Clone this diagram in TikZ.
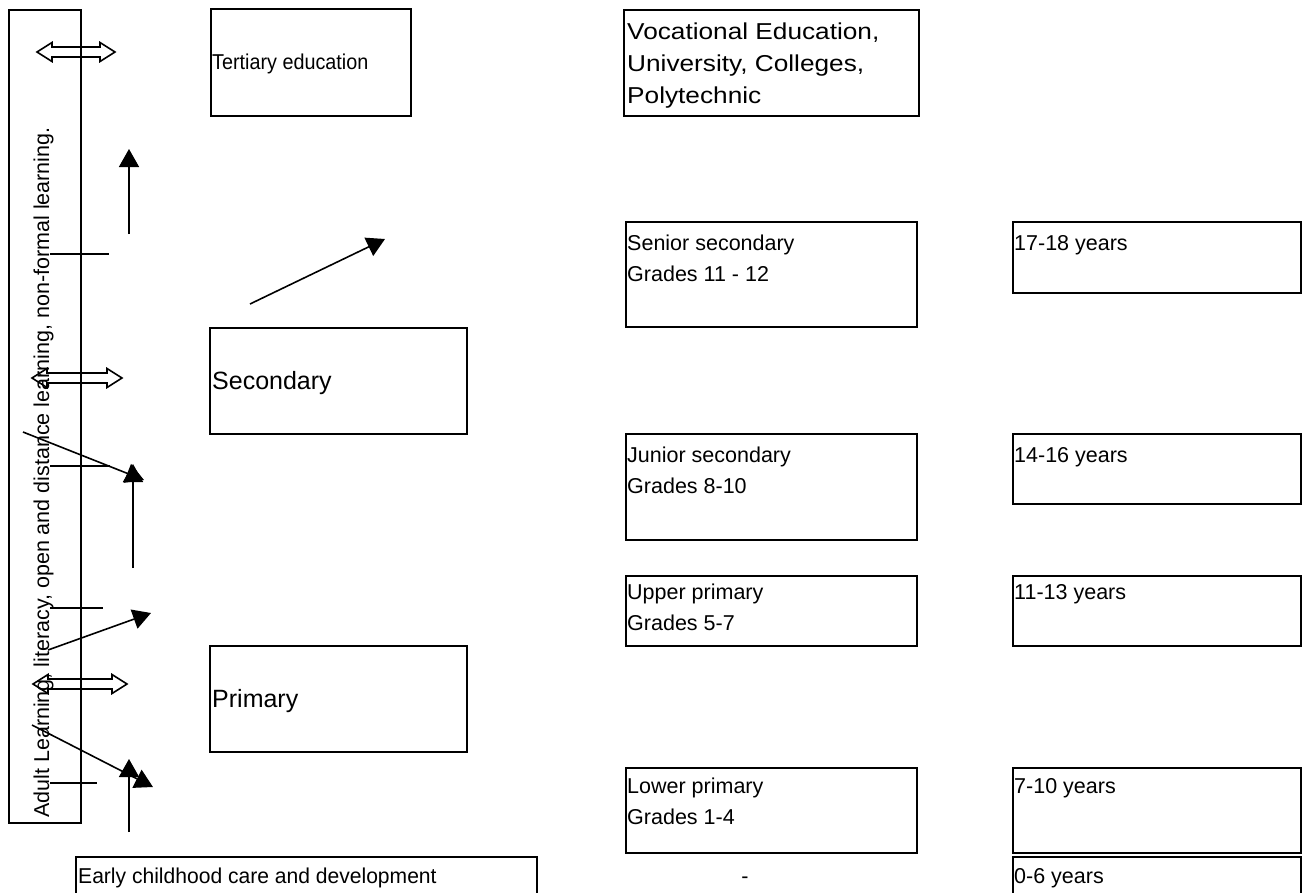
\documentclass[tikz,border=0pt]{standalone}
\usepackage{fontspec}
\usepackage{graphicx}
\setmainfont{Liberation Sans}
\usetikzlibrary{arrows.meta}
\tikzset{
  txt/.style={inner sep=0pt, anchor=base west, font=\fontsize{21.5}{31}\selectfont},
  big/.style={font=\fontsize{25}{32}\selectfont},
  bx/.style={draw, line width=2pt, inner sep=0pt, anchor=north west},
  arr/.style={line width=1.6pt, -{Triangle[length=18pt,width=20pt]}},
  thin/.style={line width=1.6pt},
  dbl/.style={line width=1.6pt, fill=none, line join=miter},
}
\newcommand\mybox[5]{\node[bx, minimum width=#4-#2, minimum height=#5-#3] (#1) at (#2,#3) {};}
\newcommand\twolines[2]{\vtop{\hbox{#1}\hbox{#2}}}
\newcommand\threelines[3]{\vtop{\hbox{#1}\hbox{#2}\hbox{#3}}}
\newcommand\dblarrow[4]{% name, x1, x2, y
  \coordinate (#1) at ({(#2+#3)/2},#4);
  \draw[dbl] (#2,#4) -- ++(15,-9.5) -- ++(0,4.5) -- ({#3-15},{#4-5}) -- ++(0,-4.5) -- (#3,#4)
    -- ({#3-15},{#4+9.5}) -- ++(0,-4.5) -- ({#2+15},{#4+5}) -- ++(0,4.5) -- cycle;}
\begin{document}
\begin{tikzpicture}[x=1pt,y=-1pt]
\useasboundingbox (0,0) rectangle (1308,892);
% left column
\mybox{adult}{8}{9}{80}{822}
\node[txt, rotate=90] (adulttxt) at (49,818)
  {Adult Learning, literacy, open and distance learning, non-formal learning.};
% middle boxes
\mybox{tert}{210}{8}{410}{115}
\mybox{sec}{209}{327}{466}{433}
\mybox{prim}{209}{645}{466}{751}
\node[txt] (terttxt) at (212,69) {\scalebox{0.92}[1]{Tertiary education}};
\node[txt, big] (sectxt) at (212,389) {Secondary};
\node[txt, big] (primtxt) at (212,707) {Primary};
% right column A
\mybox{voc}{623}{9}{918}{115}
\mybox{sen}{625}{221}{916}{326}
\mybox{jun}{625}{433}{916}{539}
\mybox{upp}{625}{575}{916}{645}
\mybox{low}{625}{767}{916}{852}
\node[txt, font=\fontsize{23}{32}\selectfont] (voctxt) at (627,39)
  {\scalebox{1.14}[1]{\threelines{Vocational Education,}{University, Colleges,}{Polytechnic}}};
\node[txt] (sentxt) at (627,250) {\twolines{Senior secondary}{Grades 11 - 12}};
\node[txt] (juntxt) at (627,462) {\twolines{Junior secondary}{Grades 8-10}};
\node[txt] (upptxt) at (627,599) {\twolines{Upper primary}{Grades 5-7}};
\node[txt] (lowtxt) at (627,793) {\twolines{Lower primary}{Grades 1-4}};
% right column B
\mybox{a1718}{1012}{221}{1300}{292}
\mybox{a1416}{1012}{433}{1300}{503}
\mybox{a1113}{1012}{575}{1300}{645}
\mybox{a710}{1012}{767}{1300}{852}
\mybox{a06}{1012}{856}{1300}{900}
\node[txt] (t1718) at (1014,250) {17-18 years};
\node[txt] (t1416) at (1014,462) {14-16 years};
\node[txt] (t1113) at (1014,599) {11-13 years};
\node[txt] (t710) at (1014,793) {7-10 years};
\node[txt] (t06) at (1014,883) {0-6 years};
% bottom row
\mybox{early}{75}{856}{536}{900}
\node[txt] (earlytxt) at (78,883) {\scalebox{0.98}[1]{Early childhood care and development}};
\node[txt, anchor=base] (dash) at (745,883) {-};
% ticks
\coordinate (k1a) at (50,254); \coordinate (k1b) at (109,254);
\coordinate (k2a) at (50,466); \coordinate (k2b) at (110,466);
\coordinate (k3a) at (50,608); \coordinate (k3b) at (103,608);
\coordinate (k4a) at (50,783); \coordinate (k4b) at (97,783);
\draw[thin] (k1a) -- (k1b);
\draw[thin] (k2a) -- (k2b);
\draw[thin] (k3a) -- (k3b);
\draw[thin] (k4a) -- (k4b);
% double arrows
\dblarrow{d1}{37}{115}{52}
\dblarrow{d2}{32}{122}{378}
\dblarrow{d3}{33}{127}{684}
% arrows
\coordinate (u1s) at (129,234); \coordinate (u1e) at (129,149);
\coordinate (g1s) at (250,304); \coordinate (g1e) at (385,239);
\coordinate (g2s) at (23,432);  \coordinate (g2e) at (144,480);
\coordinate (u2s) at (133,568); \coordinate (u2e) at (133,464);
\coordinate (g3s) at (48,650);  \coordinate (g3e) at (151,613);
\coordinate (g4s) at (32,725);  \coordinate (g4e) at (153,787);
\coordinate (u3s) at (129,832); \coordinate (u3e) at (129,759);
\draw[arr] (u1s) -- (u1e);
\draw[arr] (g1s) -- (g1e);
\draw[arr] (g2s) -- (g2e);
\draw[arr] (u2s) -- (u2e);
\draw[arr] (g3s) -- (g3e);
\draw[arr] (g4s) -- (g4e);
\draw[arr] (u3s) -- (u3e);
\end{tikzpicture}
\end{document}
